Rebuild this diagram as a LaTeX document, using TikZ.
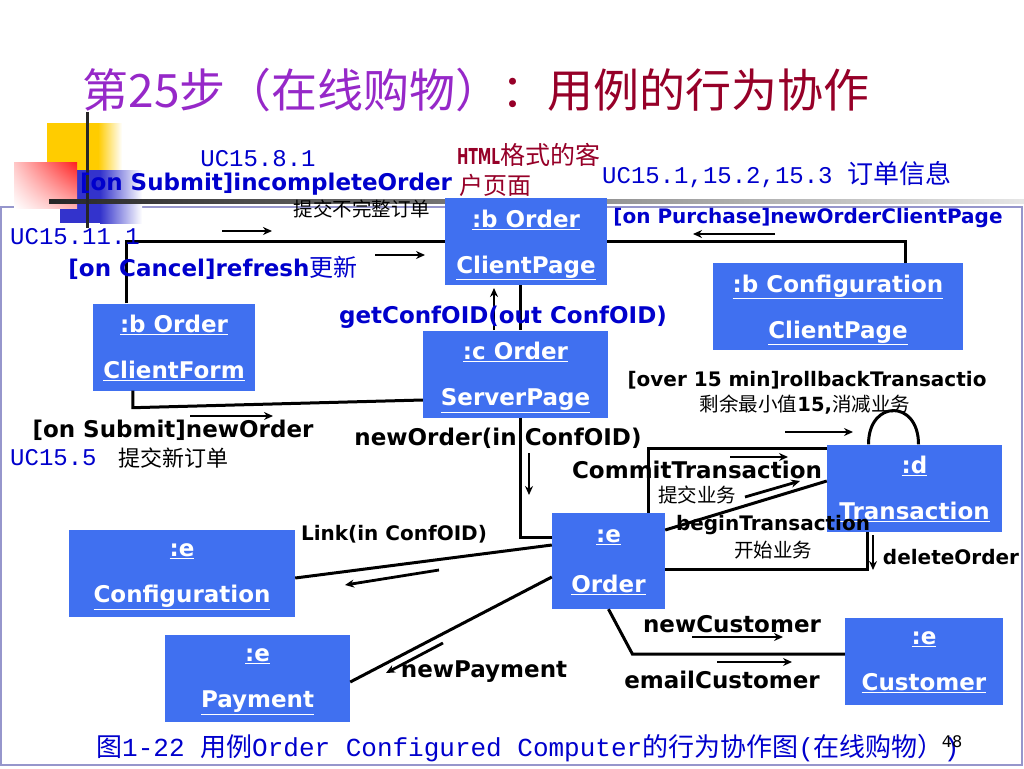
\documentclass[tikz,border=0pt]{standalone}
\usepackage{fontspec}
\setmainfont{DejaVu Sans}
\newfontfamily\cjk{Noto Sans CJK SC}
\newfontfamily\uc{Liberation Mono}
\usetikzlibrary{shadings,arrows.meta}

\definecolor{boxblue}{RGB}{64,112,240}
\definecolor{ucblue}{RGB}{0,0,204}
\definecolor{titlepurple}{RGB}{150,40,200}
\definecolor{titlered}{RGB}{150,0,40}
\definecolor{framegray}{RGB}{150,150,204}
\definecolor{decoyellow}{RGB}{255,204,0}
\definecolor{decoblue}{RGB}{51,51,204}
\definecolor{decored}{RGB}{255,30,30}

\newcommand{\objtext}[2]{\underline{#1}\\\underline{#2}}

\begin{document}
\begin{tikzpicture}[%
    x=1pt,
    y=-1pt,
    >={Stealth[length=9pt,width=8pt]},
    obj/.style={%
      rectangle,
      fill=boxblue,
      text=white,
      inner sep=0pt,
      align=center,
      text depth=0pt,
      minimum height=87pt,
      font=\fontsize{23}{46}\selectfont\bfseries
    },
    link/.style={line width=3pt},
    msg/.style={->, line width=2.8pt},
    msgbig/.style={inner sep=0pt, font=\fontsize{23}{26}\selectfont\bfseries},
    msgsmall/.style={inner sep=0pt, font=\fontsize{20}{22}\selectfont\bfseries},
    cn/.style={inner sep=0pt, font=\cjk\fontsize{19.5}{22}\selectfont},
    ucl/.style={inner sep=0pt, text=ucblue, font=\uc\fontsize{24}{26}\selectfont}
  ]
    \useasboundingbox (0,0) rectangle (1024,768);

    % frame and slide decoration
    \draw[framegray, line width=1.2pt] (1,207) rectangle (1022,765);
    \fill[decoyellow] (47,123) rectangle (98,175);
    \shade[left color=decoyellow, right color=white] (98,123) rectangle (122,175);
    \fill[decoblue] (60,170) rectangle (100,223);
    \shade[left color=decoblue, right color=white] (100,170) rectangle (142,223);
    \shade[upper left=decored!25, upper right=decored, lower left=white, lower right=decored!35]
      (14,162) rectangle (77,208);
    \shade[left color=black!85, right color=black!10] (49,199) rectangle (1024,203);
    \fill[black!85] (86,112) rectangle (89,228);

    \node[inner sep=0pt, font=\cjk\fontsize{46}{50}\selectfont] (title) at (476,90)
      {\textcolor{titlepurple}{第25步（在线购物）}\textcolor{titlered}{：用例的行为协作}};

    % objects
    \node[obj, minimum width=162pt] (bOCP) at (526,241.5) {\objtext{:b Order}{ClientPage}};
    \node[obj, minimum width=250pt] (bCCP) at (838,306.5) {\objtext{:b Configuration}{ClientPage}};
    \node[obj, minimum width=162pt] (bOCF) at (174,347) {\objtext{:b Order}{ClientForm}};
    \node[obj, minimum width=185pt] (cOSP) at (515.5,374) {\objtext{:c Order}{ServerPage}};
    \node[obj, minimum width=175pt] (dT) at (914.5,488) {\objtext{:d}{Transaction}};
    \node[obj, minimum width=113pt, minimum height=96pt, font=\fontsize{23}{50}\selectfont\bfseries]
      (eO) at (608.5,561) {\objtext{:e}{Order}};
    \node[obj, minimum width=226pt] (eCfg) at (182,573) {\objtext{:e}{Configuration}};
    \node[obj, minimum width=185pt] (eP) at (257.5,678) {\objtext{:e}{Payment}};
    \node[obj, minimum width=158pt] (eCu) at (924,661.5) {\objtext{:e}{Customer}};

    % links
    \draw[link] ([xshift=34pt]bOCF.north west) |- (bOCP.west);
    \draw[link] ([xshift=40pt]bOCF.south west) -- ++(0,17) -- ([yshift=-26pt]cOSP.west);
    \draw[link] (bOCP.east) -| ([xshift=67pt]bCCP.north);
    \draw[link] ([xshift=-6pt]bOCP.south) -- ([xshift=-6pt]bOCP.south |- cOSP.north);
    \draw[link] ([xshift=5pt]cOSP.south) |- ([yshift=24pt]eO.west);
    \draw[link] ([xshift=40pt]eO.north) |- ([yshift=40pt]dT.west);
    \draw[link] ([yshift=31pt]eO.east) -- ([yshift=7pt]dT.west);
    \draw[link] ([yshift=-8pt]eO.east) -| ([xshift=-47pt]dT.south);
    \draw[link] ([xshift=-46pt]dT.north) .. controls +(0,-45) and +(0,-45) .. ([xshift=4pt]dT.north);
    \draw[link] ([yshift=16pt]eO.west) -- ([yshift=-5pt]eCfg.east);
    \draw[link] ([yshift=-16pt]eO.west) -- ([yshift=-4pt]eP.east);
    \draw[link] (eO.south) -- ++(24,45) -- ([yshift=7.5pt]eCu.west);

    % messages
    \foreach \m/\xa/\ya/\xb/\yb in {%
        incomplete/222/231/272/231, refresh/375/255/425/255,
        purchase/775/234/693/234, getconf/494/330/494/288,
        neworderf/190/416/273/416, newordersp/529/453/529/495,
        rollback/785/432/853/432, commit/730/457/788/457,
        begin/745/497/800/481, delete/873/535/873/570,
        linkconf/439/570/345/585, payment/443/643/386/673,
        newcust/692/637/783/637, email/717/662/792/662} {
      \coordinate (\m-s) at (\xa,\ya);
      \coordinate (\m-e) at (\xb,\yb);
      \draw[msg] (\m-s) -- (\m-e);
    }

    % labels
    \node[ucl] (uc858) at (258,159) {UC15.8.1};
    \node[msgbig, text=ucblue] (lIncomplete) at (266,184) {[on Submit]incompleteOrder};
    \node[cn] (cIncomplete) at (362,209) {提交不完整订单};
    \node[inner sep=0pt, anchor=west, text=titlered, font=\cjk\fontsize{25}{26}\selectfont] (html1) at (457,155)
      {{\rmfamily\bfseries\fontsize{22}{24}\selectfont\scalebox{0.62}[1]{HTML}}格式的客};
    \node[inner sep=0pt, anchor=west, text=titlered, font=\cjk\fontsize{24}{26}\selectfont] (html2) at (459,185) {户页面};
    \node[ucl, anchor=west] (ucOrder) at (602,175) {UC15.1,15.2,15.3 {\cjk\fontsize{26}{28}\selectfont 订单信息}};
    \node[msgsmall, text=ucblue] (lPurchase) at (808,218) {[on Purchase]newOrderClientPage};
    \node[ucl, anchor=west] (uc1111) at (10,237) {UC15.11.1};
    \node[msgbig, text=ucblue] (lRefresh) at (213,268)
      {[on Cancel]refresh{\cjk\mdseries\fontsize{24}{26}\selectfont 更新}};
    \node[msgbig, text=ucblue] (lGetConf) at (503,317) {getConfOID(out ConfOID)};
    \node[msgbig] (lNewOrderF) at (173,430) {[on Submit]newOrder};
    \node[ucl, anchor=west] (uc155) at (10,458) {UC15.5};
    \node[cn, font=\cjk\fontsize{22}{24}\selectfont] (cNewOrder) at (173,458) {提交新订单};
    \node[msgbig] (lNewOrderS) at (498,438) {newOrder(in ConfOID)};
    \node[msgsmall] (lRollback) at (807,380) {[over 15 min]rollbackTransactio};
    \node[cn] (cRollback) at (805,405) {剩余最小值{\rmfamily\bfseries 15,}消减业务};
    \node[msgbig] (lCommit) at (697,470) {CommitTransaction};
    \node[cn] (cCommit) at (697,495) {提交业务};
    \node[msgsmall] (lBegin) at (773,525) {beginTransaction};
    \node[cn] (cBegin) at (773,550) {开始业务};
    \node[msgsmall] (lDelete) at (951,557) {deleteOrder};
    \node[msgsmall] (lLink) at (394,534) {Link(in ConfOID)};
    \node[msgbig] (lPayment) at (484,672) {newPayment};
    \node[msgbig] (lNewCust) at (732,624) {newCustomer};
    \node[msgbig] (lEmail) at (722,680) {emailCustomer};
    \node[ucl, anchor=west, font=\uc\fontsize{26}{28}\selectfont] (caption) at (96,748)
      {{\cjk 图}1-22 {\cjk 用例}Order Configured Computer{\cjk 的行为协作图}({\cjk 在线购物）})};
    \node[inner sep=0pt, font=\fontsize{16}{18}\selectfont] (pageno) at (952,742) {48};
\end{tikzpicture}
\end{document}
